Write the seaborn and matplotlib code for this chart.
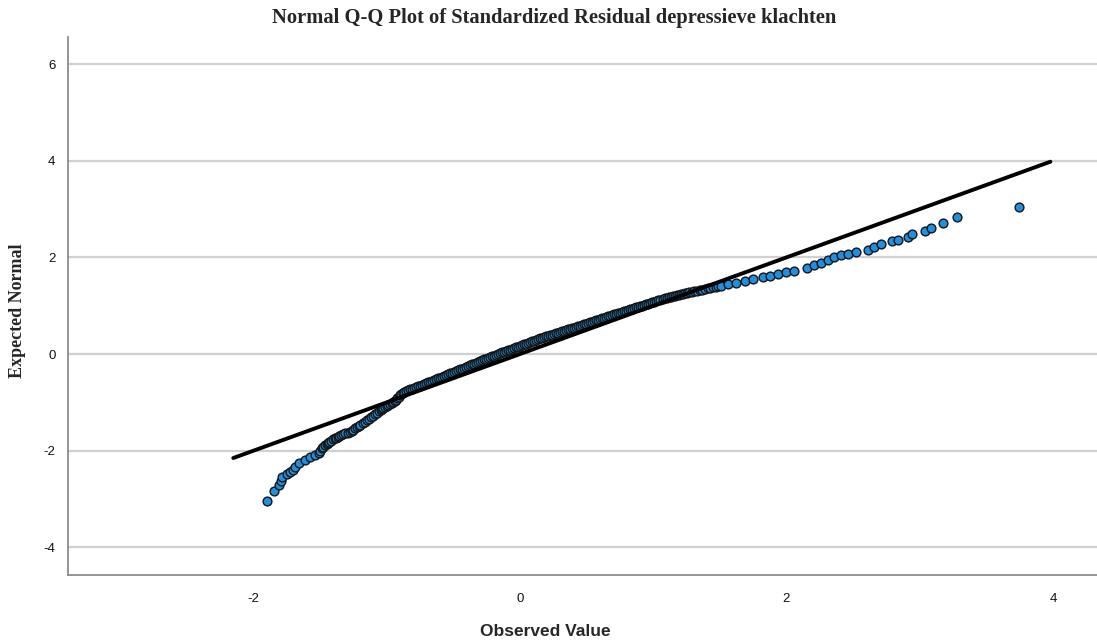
import matplotlib
matplotlib.use("Agg")
import matplotlib.pyplot as plt
import seaborn as sns
import pandas as pd

# Observed standardized residuals (x) and expected normal values (y).
# Rows of the two lists correspond one to one.
observed = [
    # lower tail
    -1.90, -1.845, -1.805, -1.79, -1.785, -1.75, -1.725, -1.70, -1.69, -1.66,
    -1.61, -1.575, -1.54, -1.51, -1.50, -1.485, -1.475, -1.46, -1.45, -1.44,
    -1.43, -1.415, -1.40, -1.39, -1.38, -1.365, -1.355, -1.34, -1.325, -1.31,
    -1.29, -1.275, -1.26, -1.25, -1.24, -1.225, -1.21, -1.20, -1.18, -1.16,
    -1.145, -1.13, -1.115, -1.10, -1.085, -1.07, -1.06, -1.045, -1.035, -1.025,
    -1.01, -1.00, -0.99, -0.975, -0.96,
    # steep bend
    -0.95, -0.94, -0.93, -0.92, -0.91, -0.90, -0.89, -0.88, -0.87,
    # dense middle band
    -0.855, -0.84, -0.825, -0.81, -0.795, -0.78, -0.765, -0.75, -0.735, -0.72,
    -0.705, -0.69, -0.675, -0.66, -0.645, -0.63, -0.615, -0.60, -0.585, -0.57,
    -0.555, -0.54, -0.525, -0.51, -0.495, -0.48, -0.465, -0.45, -0.435, -0.42,
    -0.405, -0.39, -0.375, -0.36, -0.345, -0.33, -0.315, -0.30, -0.285, -0.27,
    -0.255, -0.24, -0.225, -0.21, -0.195, -0.18, -0.165, -0.15, -0.135, -0.12,
    -0.105, -0.09, -0.075, -0.06, -0.045, -0.03, -0.015, 0.00, 0.015, 0.03,
    0.045, 0.06, 0.075, 0.09, 0.105, 0.12, 0.135, 0.15, 0.165, 0.18,
    0.195, 0.21, 0.225, 0.24, 0.255, 0.27, 0.285, 0.30, 0.315, 0.33,
    0.345, 0.36, 0.375, 0.39, 0.405, 0.42, 0.435, 0.45, 0.465, 0.48,
    0.495, 0.51, 0.525, 0.54, 0.555, 0.575, 0.59, 0.605, 0.62, 0.635,
    0.65, 0.665, 0.68, 0.695, 0.71, 0.725, 0.74, 0.755, 0.77, 0.785,
    0.80, 0.815, 0.83, 0.845, 0.86, 0.875, 0.89, 0.905, 0.92, 0.935,
    0.95, 0.965, 0.98, 0.995, 1.01, 1.025, 1.04, 1.055, 1.075, 1.09,
    1.105, 1.12, 1.135, 1.15, 1.165, 1.18, 1.195, 1.21, 1.225, 1.24,
    1.255, 1.27, 1.29, 1.31, 1.33, 1.35, 1.37, 1.39, 1.41, 1.43,
    1.45, 1.47, 1.49, 1.51,
    # upper tail
    1.56, 1.625, 1.69, 1.75, 1.825, 1.875, 1.94, 2.00, 2.055, 2.155,
    2.21, 2.26, 2.31, 2.36, 2.41, 2.46, 2.525, 2.61, 2.655, 2.71,
    2.79, 2.84, 2.91, 2.945, 3.04, 3.088, 3.175, 3.28, 3.745,
]
expected = [
    # lower tail
    -3.04, -2.83, -2.71, -2.63, -2.54, -2.48, -2.435, -2.40, -2.33, -2.25,
    -2.19, -2.125, -2.09, -2.04, -2.00, -1.95, -1.92, -1.88, -1.86, -1.835,
    -1.81, -1.79, -1.765, -1.745, -1.73, -1.71, -1.695, -1.675, -1.655, -1.64,
    -1.625, -1.61, -1.585, -1.56, -1.53, -1.50, -1.48, -1.46, -1.43, -1.40,
    -1.37, -1.34, -1.31, -1.28, -1.245, -1.21, -1.185, -1.16, -1.14, -1.12,
    -1.095, -1.07, -1.05, -1.03, -1.01,
    # steep bend
    -0.99, -0.965, -0.94, -0.91, -0.88, -0.855, -0.83, -0.80, -0.785,
    # dense middle band
    -0.765, -0.75, -0.73, -0.715, -0.70, -0.68, -0.665, -0.65, -0.63, -0.615,
    -0.60, -0.585, -0.57, -0.55, -0.535, -0.52, -0.50, -0.485, -0.47, -0.45,
    -0.435, -0.415, -0.40, -0.385, -0.365, -0.35, -0.33, -0.315, -0.30, -0.28,
    -0.265, -0.245, -0.23, -0.215, -0.195, -0.18, -0.16, -0.145, -0.13, -0.11,
    -0.095, -0.08, -0.06, -0.045, -0.03, -0.01, 0.005, 0.02, 0.035, 0.05,
    0.065, 0.08, 0.095, 0.11, 0.125, 0.14, 0.155, 0.17, 0.185, 0.20,
    0.215, 0.23, 0.245, 0.265, 0.28, 0.295, 0.31, 0.325, 0.34, 0.35,
    0.365, 0.38, 0.39, 0.405, 0.42, 0.43, 0.445, 0.455, 0.47, 0.485,
    0.495, 0.51, 0.525, 0.535, 0.55, 0.56, 0.575, 0.59, 0.60, 0.615,
    0.63, 0.64, 0.655, 0.67, 0.68, 0.70, 0.715, 0.725, 0.74, 0.755,
    0.765, 0.78, 0.795, 0.805, 0.82, 0.835, 0.845, 0.86, 0.87, 0.885,
    0.90, 0.91, 0.925, 0.94, 0.95, 0.965, 0.98, 0.99, 1.005, 1.02,
    1.03, 1.045, 1.06, 1.07, 1.085, 1.10, 1.11, 1.125, 1.15, 1.16,
    1.17, 1.18, 1.19, 1.20, 1.21, 1.22, 1.23, 1.24, 1.25, 1.255,
    1.265, 1.275, 1.29, 1.30, 1.31, 1.32, 1.335, 1.345, 1.36, 1.37,
    1.38, 1.39, 1.40, 1.41,
    # upper tail
    1.45, 1.475, 1.51, 1.545, 1.585, 1.61, 1.655, 1.69, 1.72, 1.79,
    1.84, 1.89, 1.945, 2.00, 2.05, 2.08, 2.12, 2.15, 2.21, 2.28,
    2.34, 2.37, 2.42, 2.477, 2.545, 2.61, 2.71, 2.84, 3.04,
]

# Reference line (y = x) extent
line_x = [-2.15, 3.98]
line_y = [-2.15, 3.98]

x_ticks = [-2, 0, 2, 4]
y_ticks = [-4, -2, 0, 2, 4, 6]

title = "Normal Q-Q Plot of Standardized Residual depressieve klachten"
x_label = "Observed Value"
y_label = "Expected Normal"

sns.set_theme(style="white")
plt.rcParams["font.family"] = ["Liberation Sans", "DejaVu Sans"]

df = pd.DataFrame({"Observed": observed, "Expected": expected})
line_df = pd.DataFrame({"x": line_x, "y": line_y})

W, H = 1097, 641
fig = plt.figure(figsize=(W / 100, H / 100), dpi=100)
ax = fig.add_axes([68 / W, (H - 575) / H, (W - 68) / W, (575 - 37) / H])

ax.set_xlim(-3.39, 4.33)
ax.set_ylim(-4.57, 6.56)
ax.set_xticks(x_ticks)
ax.set_yticks(y_ticks)
ax.set_xticklabels([str(t) for t in x_ticks])
ax.set_yticklabels([str(t) for t in y_ticks])

for t in y_ticks:
    ax.axhline(t, color="#d0d0d0", lw=1.6, zorder=0)

sns.scatterplot(data=df, x="Observed", y="Expected", ax=ax, s=40,
                color="#1f8fe0", edgecolor="#151515", linewidth=1.0, zorder=3)
sns.lineplot(data=line_df, x="x", y="y", ax=ax, color="black", lw=2.8,
             zorder=4, sort=False)

for side in ["top", "right"]:
    ax.spines[side].set_visible(False)
for side in ["left", "bottom"]:
    ax.spines[side].set_color("#8c8c8c")
    ax.spines[side].set_linewidth(1.3)

ax.tick_params(axis="both", length=0, labelsize=9.5, colors="#111111")
ax.tick_params(axis="x", pad=13)
ax.tick_params(axis="y", pad=9)
ax.set_xlabel("")
ax.set_ylabel("")

fig.text(554 / W, 1 - 18 / H, title, ha="center", va="center",
         fontsize=14.8, fontweight="bold", family=["Liberation Serif", "DejaVu Serif"])
fig.text(545 / W, 1 - 631 / H, x_label, ha="center", va="center",
         fontsize=12.5, fontweight="bold")
fig.text(18 / W, 1 - 311 / H, y_label, ha="center", va="center", rotation=90,
         fontsize=13, fontweight="bold", family=["Liberation Serif", "DejaVu Serif"])

fig.savefig("out.png", dpi=100)
